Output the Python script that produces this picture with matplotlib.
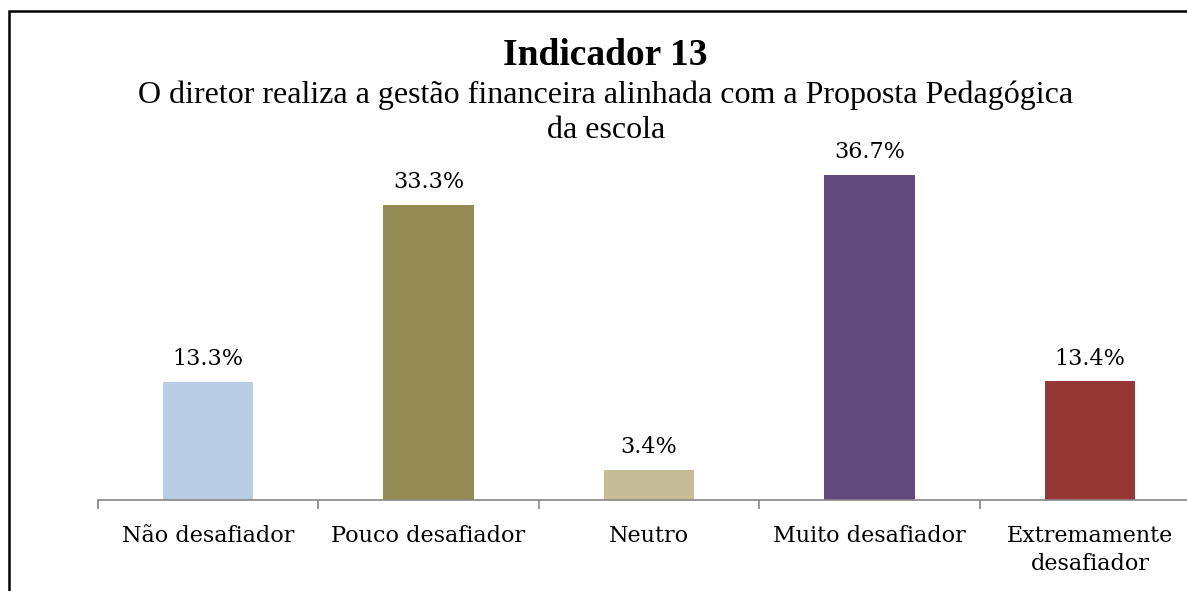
"""
Indicador 13: share of answers per difficulty level, bar chart with value labels.
"""

import matplotlib
matplotlib.use("Agg")
import matplotlib.pyplot as plt
from matplotlib.patches import Rectangle

categories = ["Não desafiador", "Pouco desafiador", "Neutro",
              "Muito desafiador", "Extremamente\ndesafiador"]
values = [13.3, 33.3, 3.4, 36.7, 13.4]
colors = ["#B9CDE5", "#948A54", "#C4BD97", "#604A7B", "#953735"]

title = "Indicador 13"
subtitle_lines = ["O diretor realiza a gestão financeira alinhada com a Proposta Pedagógica",
                  "da escola"]

plt.rcParams["font.family"] = ["Liberation Serif", "DejaVu Serif"]
label_font = ["DejaVu Serif"]

fig = plt.figure(figsize=(11.87, 5.91), dpi=100)
W, H = 1187, 591

# axes placed in pixel terms: baseline at y=500, category width ~220 px
ax = fig.add_axes([97.5 / W, (H - 500) / H, 1103 / W, 40 * 8.86 / H])
x = range(len(categories))
ax.bar(x, values, width=0.41, color=colors)
ax.set_xlim(-0.5, len(categories) - 0.5)
ax.set_ylim(0, 40)

for xi, v in zip(x, values):
    ax.annotate(f"{v:.1f}%", (xi, v), xytext=(0, 12), textcoords="offset points",
                ha="center", va="baseline", fontsize=16, family=label_font)

ax.set_xticks([i - 0.5 for i in range(len(categories) + 1)])
ax.set_xticklabels([])
ax.set_xticks(list(x), minor=True)
ax.set_xticklabels(categories, minor=True, fontsize=16, family=label_font,
                   linespacing=1.35)
ax.tick_params(axis="x", which="major", length=6.5, width=1.2, color="#868686", direction="out")
ax.tick_params(axis="x", which="minor", length=0, pad=18)
ax.set_yticks([])
for side in ["left", "right", "top"]:
    ax.spines[side].set_visible(False)
ax.spines["bottom"].set_color("#868686")
ax.spines["bottom"].set_linewidth(1.2)

fig.text(605 / W, (H - 65) / H, title, ha="center", va="baseline",
         fontsize=27, fontweight="bold")
fig.text(606 / W, (H - 103) / H, subtitle_lines[0], ha="center", va="baseline", fontsize=23)
fig.text(606 / W, (H - 138) / H, subtitle_lines[1], ha="center", va="baseline", fontsize=23)

# outer chart frame (runs off the right and bottom edges)
fig.patches.append(Rectangle((9.5 / W, -0.2), 1.2, (H - 10.5) / H + 0.2,
                             transform=fig.transFigure, fill=False,
                             edgecolor="black", linewidth=1.8))

fig.savefig("out.png", dpi=100)
